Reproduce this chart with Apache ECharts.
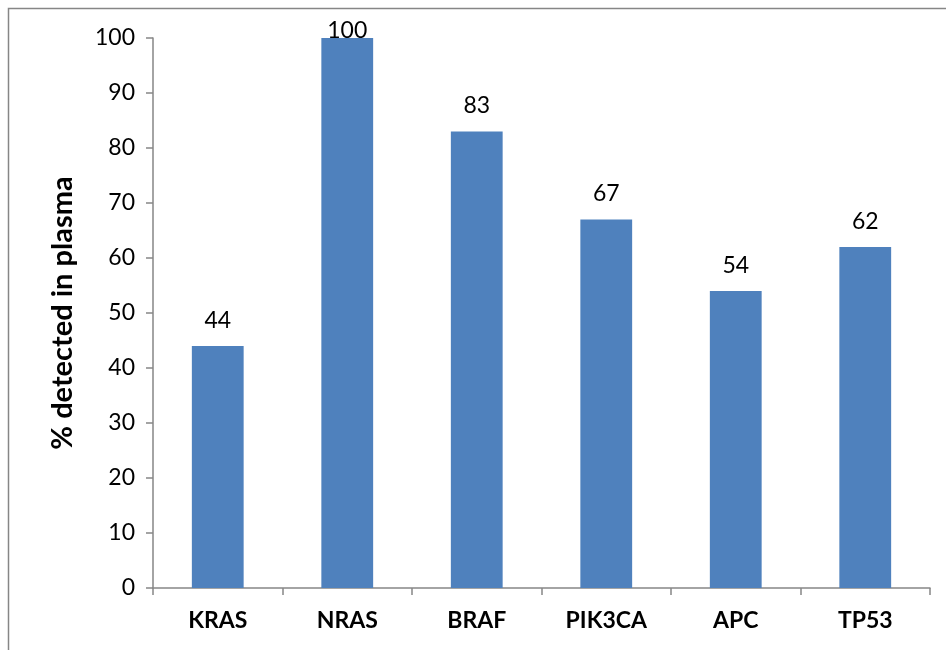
<!DOCTYPE html>
<html>
<head>
<meta charset="utf-8">
<script src="https://cdn.jsdelivr.net/npm/echarts@6/dist/echarts.min.js"></script>
<style>
  html, body { margin: 0; padding: 0; background: #fff; }
  #chart { width: 946px; height: 650px; }
</style>
</head>
<body>
<div id="chart"></div>
<script>
// Genes and share of mutations detected in plasma (%)
const genes = ['KRAS', 'NRAS', 'BRAF', 'PIK3CA', 'APC', 'TP53'];
const detectedPct = [44, 100, 83, 67, 54, 62];
const yTicks = [0, 10, 20, 30, 40, 50, 60, 70, 80, 90, 100];

const FONT = 'Lato, "Open Sans", "Liberation Sans", sans-serif';
const AXIS_GRAY = '#868686';
const yMax = yTicks[yTicks.length - 1];

// A label that would rise above the plot area sits right on its bar instead.
const barData = detectedPct.map(v => v >= yMax
  ? { value: v, label: { distance: -4 } }
  : v);

const chart = echarts.init(document.getElementById('chart'), null, { renderer: 'canvas' });

chart.setOption({
  animation: false,
  backgroundColor: '#ffffff',
  graphic: [{
    type: 'rect',
    shape: { x: 8.5, y: 8.5, width: 1000, height: 1000 },
    style: { fill: 'none', stroke: AXIS_GRAY, lineWidth: 1.5 },
    silent: true
  }],
  grid: { left: 153, right: 16, top: 38, bottom: 62 },
  xAxis: {
    type: 'category',
    data: genes,
    axisLine: { lineStyle: { color: AXIS_GRAY, width: 1.5 } },
    axisTick: { show: true, length: 7, lineStyle: { color: AXIS_GRAY, width: 1.5 } },
    axisLabel: { color: '#000', fontFamily: FONT, fontSize: 23, fontWeight: 'bold', margin: 21 }
  },
  yAxis: {
    type: 'value',
    min: yTicks[0],
    max: yMax,
    interval: yTicks[1] - yTicks[0],
    name: '% detected in plasma',
    nameLocation: 'middle',
    nameGap: 76,
    nameTextStyle: { color: '#000', fontFamily: FONT, fontSize: 29, fontWeight: 'bold' },
    axisLine: { show: true, lineStyle: { color: AXIS_GRAY, width: 1.5 } },
    axisTick: { show: true, length: 7, lineStyle: { color: AXIS_GRAY, width: 1.5 } },
    splitLine: { show: false },
    axisLabel: { color: '#000', fontFamily: FONT, fontSize: 23, margin: 18 }
  },
  series: [{
    type: 'bar',
    data: barData,
    barWidth: '40%',
    itemStyle: { color: '#4F81BD' },
    label: {
      show: true,
      position: 'top',
      distance: 14,
      color: '#000',
      fontFamily: FONT,
      fontSize: 23
    }
  }]
});
</script>
</body>
</html>
